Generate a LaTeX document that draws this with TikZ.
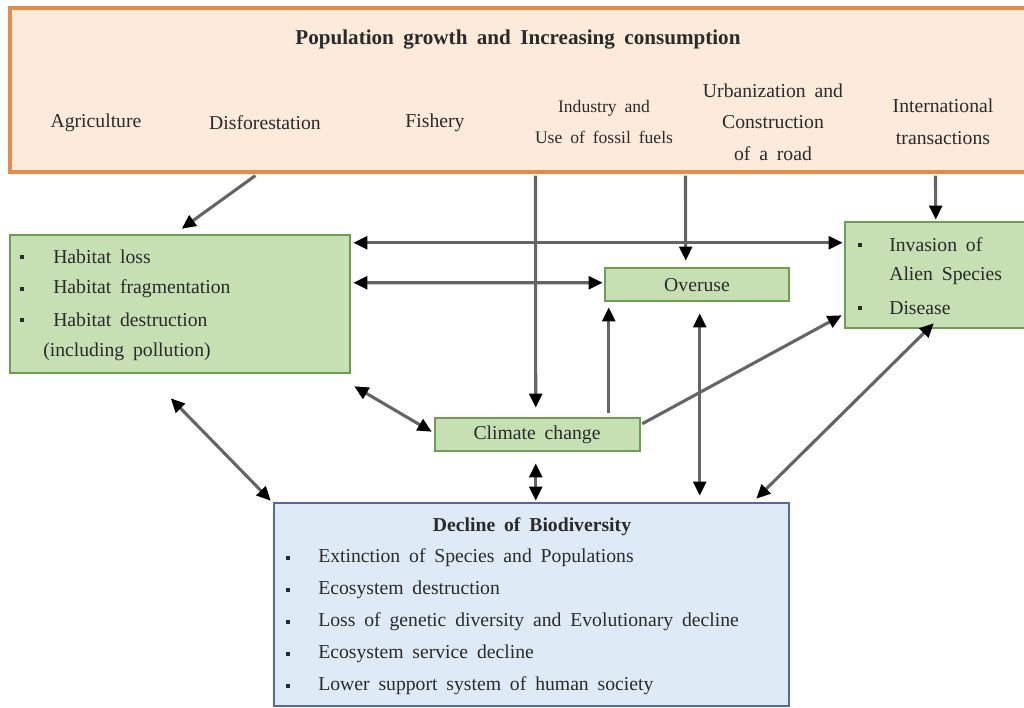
\documentclass[tikz,border=0pt]{standalone}
\usepackage{fontspec}
\setmainfont[WordSpace=1.8]{Liberation Serif}
\usetikzlibrary{arrows.meta,calc,fit}

\definecolor{peachfill}{HTML}{FCEADB}
\definecolor{peachline}{HTML}{E98A45}
\definecolor{greenfill}{HTML}{C6E0B4}
\definecolor{greenline}{HTML}{6E9E50}
\definecolor{bluefill}{HTML}{DEEBF7}
\definecolor{blueline}{HTML}{52699A}
\definecolor{arrowgray}{HTML}{646464}
\definecolor{ink}{HTML}{2A2A2A}

\tikzset{
  sourcebox/.style={draw=peachline, fill=peachfill, line width=2.2pt, inner sep=0pt},
  impactbox/.style={draw=greenline, fill=greenfill, line width=1.8pt, inner sep=0pt},
  resultbox/.style={draw=blueline, fill=bluefill, line width=1.8pt, inner sep=0pt},
  txt/.style={text=ink, inner sep=0pt, font=\fontsize{14}{16}\selectfont},
  smalltxt/.style={text=ink, inner sep=0pt, align=center, font=\fontsize{12.5}{22.4}\selectfont},
  bullet/.style={rectangle, fill=ink, inner sep=0pt, minimum size=3.4pt},
  flow/.style={draw=arrowgray, line width=2.2pt, -{Triangle[length=10pt, width=9pt, color=black]}},
  biflow/.style={draw=arrowgray, line width=2.2pt,
    {Triangle[length=10pt, width=9pt, color=black]}-{Triangle[length=10pt, width=9pt, color=black]}}
}

\begin{document}
\begin{tikzpicture}[x=0.025cm, y=-0.025cm]
\useasboundingbox (0,0) rectangle (1024,708);
\clip (0,0) rectangle (1024,708);

% ---- boxes ----
\node[sourcebox, fit={(10,8) (1040,172)}] (top) {};
\node[impactbox, fit={(10,235) (350,373)}] (habitat) {};
\node[impactbox, fit={(605,268) (789,301)}] (overuse) {};
\node[impactbox, fit={(845,222) (1040,328)}] (alien) {};
\node[impactbox, fit={(435,418) (640,451)}] (climate) {};
\node[resultbox, fit={(274,503) (789,706)}] (decline) {};

% ---- drivers ----
\node[txt, font=\fontsize{15}{17}\selectfont\bfseries] (title) at (518,40) {Population growth and Increasing consumption};
\node[txt] (agri) at (96,123) {Agriculture};
\node[txt] (defor) at (265,123) {Disforestation};
\node[txt] (fish) at (435,123) {Fishery};
\node[smalltxt] (indus) at (604,122) {Industry and\\Use of fossil fuels};
\node[smalltxt, font=\fontsize{14}{22.4}\selectfont] (urban) at (773,122) {Urbanization and\\Construction\\of a road};
\node[smalltxt, font=\fontsize{14}{22.4}\selectfont] (trade) at (943,122) {International\\transactions};

% ---- habitat box ----
\node[bullet] (hb1) at (22,257) {};
\node[bullet] (hb2) at (22,289) {};
\node[bullet] (hb3) at (22,320) {};
\node[txt, anchor=west] (h1) at (53,257) {Habitat loss};
\node[txt, anchor=west] (h2) at (53,289) {Habitat fragmentation};
\node[txt, anchor=west] (h3) at (53,320) {Habitat destruction};
\node[txt, anchor=west] (h4) at (43,352) {(including pollution)};

% ---- single-line boxes ----
\node[txt] (overtxt) at (697,285) {Overuse};
\node[txt] (climtxt) at (537,435) {Climate change};

% ---- alien species box ----
\node[bullet] (ab1) at (860,245) {};
\node[bullet] (ab2) at (860,308) {};
\node[txt, anchor=west] (a1) at (889,245) {Invasion of};
\node[txt, anchor=west] (a2) at (889,276) {Alien Species};
\node[txt, anchor=west] (a3) at (889,308) {Disease};

% ---- biodiversity box ----
\node[txt, font=\fontsize{14}{16}\selectfont\bfseries] (dtitle) at (532,527) {Decline of Biodiversity};
\foreach \y/\t [count=\i] in {558/Extinction of Species and Populations,
                              590/Ecosystem destruction,
                              622/Loss of genetic diversity and Evolutionary decline,
                              654/Ecosystem service decline,
                              686/Lower support system of human society}{
  \node[bullet] (db\i) at (288,\y) {};
  \node[txt, anchor=west] (d\i) at (318,\y) {\t};
}

% ---- connectors ----
\draw[flow] ($(top.south west)+(247,2)$) -- ($(habitat.north west)+(173,-5)$);
\draw[biflow] ($(habitat.north east)+(2,9)$) -- ($(alien.north west)+(-1,22)$);
\draw[biflow] ($(habitat.north east)+(2,49)$) -- ($(overuse.north west)+(-1,16)$);
\draw[flow] ($(top.south west)+(527,2)$) -- ($(climate.north west)+(102,-9)$);
\draw[flow] ($(top.south west)+(677,2)$) -- ($(overuse.north west)+(82,-6)$);
\draw[flow] ($(top.south west)+(927,2)$) -- ($(alien.north west)+(92,-1)$);
\draw[flow] ($(climate.north west)+(175,-4)$) -- ($(overuse.south west)+(5,5)$);
\draw[biflow] ($(overuse.south west)+(96,11)$) -- ($(decline.north west)+(427,-6)$);
\draw[flow] ($(climate.north east)+(1,7)$) -- ($(alien.south west)+(-2,-14)$);
\draw[biflow] ($(alien.south west)+(90,-6)$) -- ($(decline.north east)+(-34,-3)$);
\draw[biflow] ($(habitat.south east)+(3,12)$) -- ($(climate.north west)+(-2,15)$);
\draw[biflow] ($(habitat.south west)+(162,24)$) -- ($(decline.north west)+(-2,-1)$);
\draw[biflow] ($(climate.south west)+(102,11)$) -- ($(decline.north west)+(263,-1)$);
\end{tikzpicture}
\end{document}
